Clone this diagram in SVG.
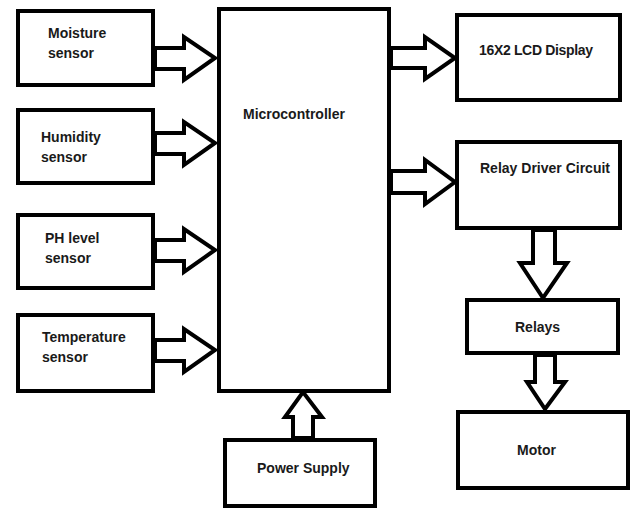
<svg xmlns="http://www.w3.org/2000/svg" width="635" height="508" viewBox="0 0 635 508">
<style>
.box{fill:#fff;stroke:#000;stroke-width:4}
.arr{fill:#fff;stroke:#000;stroke-width:4;stroke-linejoin:miter}
text{font-family:"Liberation Sans",Arial,sans-serif;font-weight:bold;font-size:14px;fill:#1a1a1a}
</style>
<rect width="635" height="508" fill="#fff"/>
<g id="connectors">
<polygon class="arr" points="155,48 184,48 184,37 215,58 184,80 184,69 155,69"/>
<polygon class="arr" points="155,133 184,133 184,122 215,143 184,165 184,154 155,154"/>
<polygon class="arr" points="155,240 184,240 184,229 215,250 184,272 184,261 155,261"/>
<polygon class="arr" points="155,340 184,340 184,329 215,350 184,372 184,361 155,361"/>
<polygon class="arr" points="391,48 425,48 425,37 455,58 425,79 425,68 391,68"/>
<polygon class="arr" points="391,171 425,171 425,160 455,182 425,204 425,193 391,193"/>
<polygon class="arr" points="533,230 555,230 555,263 567,263 543,298 520,263 533,263"/>
<polygon class="arr" points="535,355 555,355 555,382 565,382 545,409 527,382 535,382"/>
<polygon class="arr" points="293,438 313,438 313,417 322,417 303,392 285,417 293,417"/>
</g>
<g id="moisture"><rect class="box" x="18" y="11" width="135" height="74"/><text x="48" y="38">Moisture</text><text x="48" y="58">sensor</text></g>
<g id="humidity"><rect class="box" x="18" y="110" width="135" height="73"/><text x="41" y="142">Humidity</text><text x="41" y="162">sensor</text></g>
<g id="ph"><rect class="box" x="18" y="215" width="135" height="73"/><text x="45" y="243">PH level</text><text x="45" y="263">sensor</text></g>
<g id="temperature"><rect class="box" x="18" y="315" width="135" height="76"/><text x="42" y="342">Temperature</text><text x="42" y="362">sensor</text></g>
<g id="microcontroller"><rect class="box" x="219" y="9" width="170" height="382"/><text x="243" y="119">Microcontroller</text></g>
<g id="lcd"><rect class="box" x="457" y="15" width="163" height="85"/><text x="479" y="55" textLength="114">16X2 LCD Display</text></g>
<g id="driver"><rect class="box" x="457" y="142" width="163" height="86"/><text x="480" y="173" textLength="130">Relay Driver Circuit</text></g>
<g id="relays"><rect class="box" x="467" y="300" width="151" height="53"/><text x="515" y="332">Relays</text></g>
<g id="motor"><rect class="box" x="458" y="412" width="170" height="76"/><text x="517" y="455">Motor</text></g>
<g id="power"><rect class="box" x="225" y="440" width="150" height="66"/><text x="257" y="473">Power Supply</text></g>
</svg>
